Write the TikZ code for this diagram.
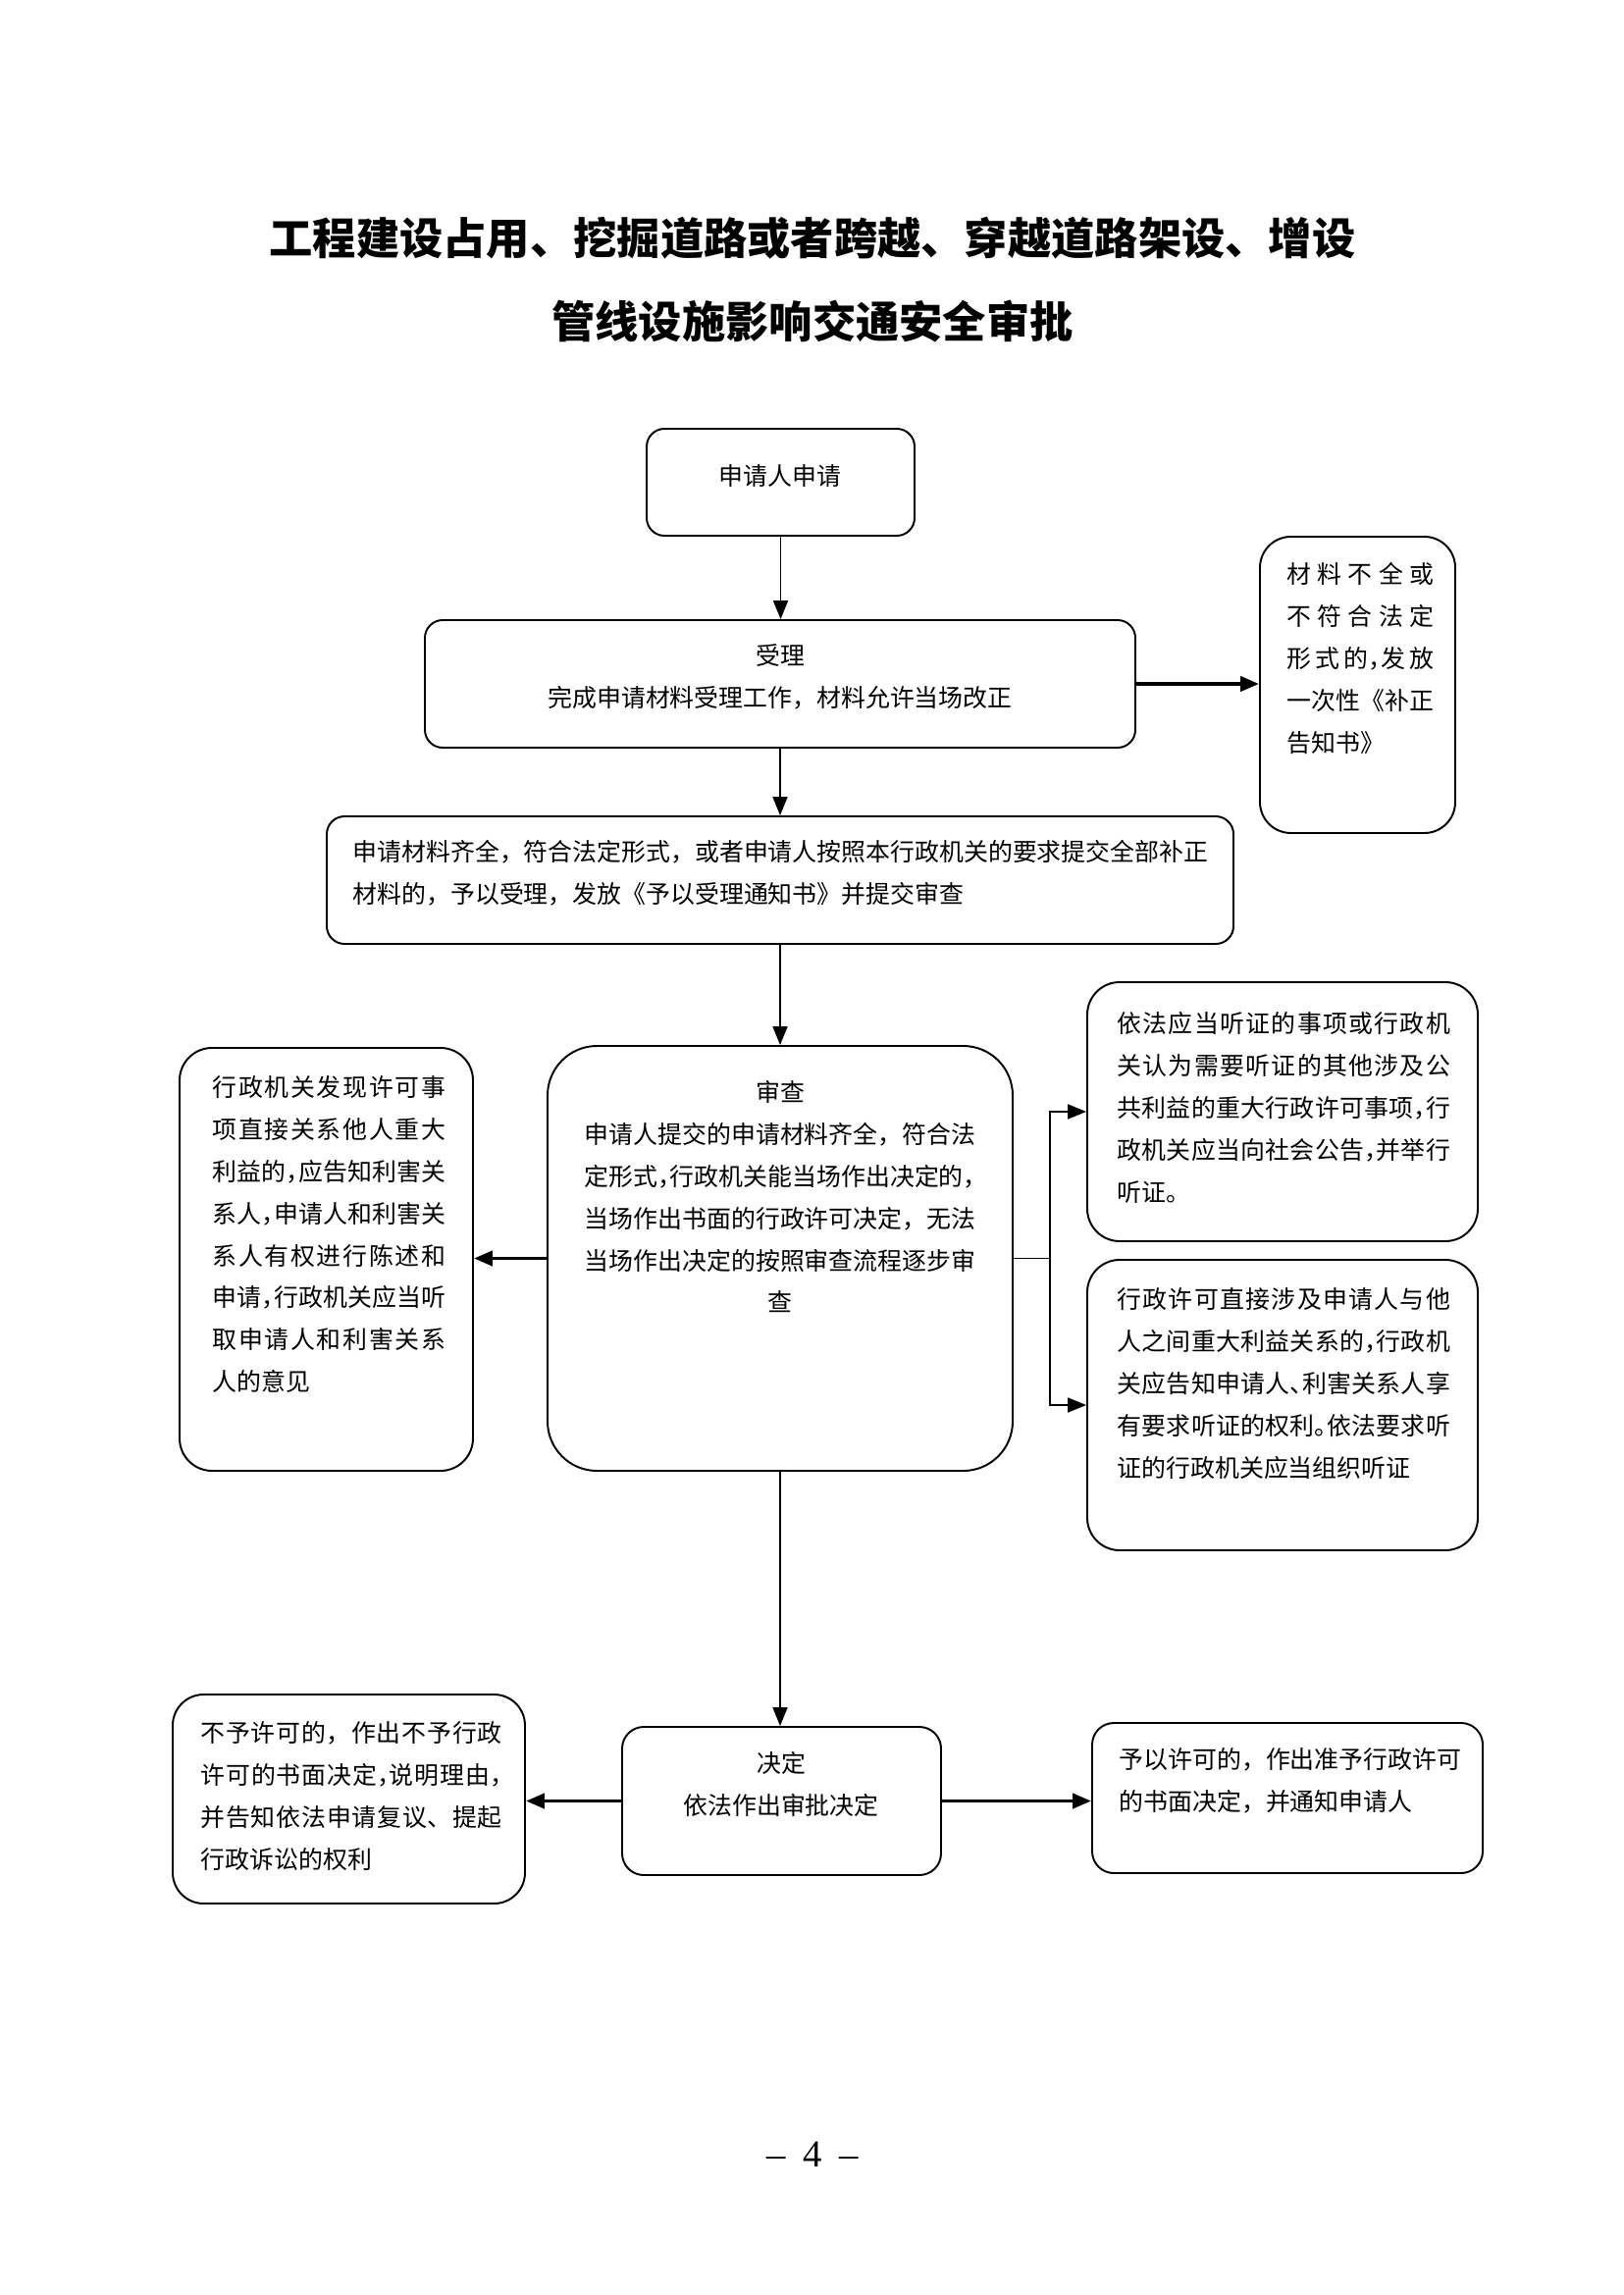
\documentclass[tikz,border=0pt]{standalone}
\usepackage{fontspec}
\setmainfont{Liberation Serif}
\newfontfamily\cjk{Noto Sans CJK SC}
\usetikzlibrary{arrows.meta,fit}
\XeTeXlinebreaklocale "zh"
\XeTeXlinebreakskip=0pt plus 3pt
\setlength{\parindent}{0pt}
\newcommand\hw[1]{\makebox[.5em][l]{#1}}

\begin{document}
\begin{tikzpicture}[x=0.127mm,y=-0.127mm]
\tikzset{
  box/.style={draw,line width=0.7pt,inner sep=0pt,rounded corners=#1},
  box/.default=2.3mm,
  txt/.style={inner sep=0pt,font=\cjk\fontsize{9}{15.5}\selectfont},
  midtxt/.style={txt,align=center,anchor=base,execute at begin node={\XeTeXlinebreakskip=0pt\relax}},
  headline/.style={inner sep=0pt,anchor=base,font=\cjk\bfseries\fontsize{16}{20}\selectfont},
  flow/.style={-{Triangle[length=2.4mm,width=1.9mm]},line width=0.6pt},
  heavyflow/.style={flow,line width=1.4pt}
}
\useasboundingbox (0,0) rectangle (1654,2339);
\node[headline] (t_head1) at (828,260) {工程建设占用、挖掘道路或者跨越、穿越道路架设、增设};
\node[headline] (t_head2) at (828,345) {管线设施影响交通安全审批};
% boxes
\node[box,fit={(659,437) (932,546)}] (b_apply) {};
\node[box,fit={(433,632) (1157,762)}] (b_accept) {};
\node[box=4mm,fit={(1284,547) (1483,849)}] (b_notice) {};
\node[box,fit={(333,832) (1257,962)}] (b_accepted) {};
\node[box=6.4mm,fit={(558,1066) (1032,1499)}] (b_review) {};
\node[box=4.2mm,fit={(183,1068) (482,1499)}] (b_hearing) {};
\node[box=4.2mm,fit={(1108,1001) (1506,1265)}] (b_public) {};
\node[box=4.2mm,fit={(1108,1284) (1506,1580)}] (b_party) {};
\node[box=2.8mm,fit={(634,1760) (959,1911)}] (b_decide) {};
\node[box=4mm,fit={(176,1727) (535,1940)}] (b_reject) {};
\node[box=2.8mm,fit={(1113,1756) (1511,1909)}] (b_grant) {};
% texts
\node[txt,anchor=base] (t_apply) at (795,494.5) {申请人申请};
\node[midtxt,text width=62mm] (t_accept) at (795,677.5) {受理\\完成申请材料受理工作，材料允许当场改正};
\node[txt,text width=19mm,align=justify,anchor=base west] (t_notice) at (1311,594.5) {材料不全或\linebreak 不符合法定\linebreak 形式的\hw{，}发放\linebreak 一次性《补正\linebreak 告知书》};
\node[txt,text width=112mm,align=left,anchor=base west] (t_accepted) at (359,877.5) {申请材料齐全，符合法定形式，或者申请人按照本行政机关的要求提交全部补正\\材料的，予以受理，发放《予以受理通知书》并提交审查};
\node[midtxt,text width=52mm] (t_review) at (795,1122.5) {审查\\申请人提交的申请材料齐全，符合法\\定形式\hw{，}行政机关能当场作出决定的\hw{，}\\当场作出书面的行政许可决定，无法\\当场作出决定的按照审查流程逐步审\\查};
\node[txt,text width=30.2mm,align=justify,anchor=base west] (t_hearing) at (216,1117.5) {行政机关发现许可事\linebreak 项直接关系他人重大\linebreak 利益的\hw{，}应告知利害关\linebreak 系人\hw{，}申请人和利害关\linebreak 系人有权进行陈述和\linebreak 申请\hw{，}行政机关应当听\linebreak 取申请人和利害关系\linebreak 人的意见};
\node[txt,text width=43.1mm,align=justify,anchor=base west] (t_public) at (1138,1052.5) {依法应当听证的事项或行政机\linebreak 关认为需要听证的其他涉及公\linebreak 共利益的重大行政许可事项\hw{，}行\linebreak 政机关应当向社会公告\hw{，}并举行\linebreak 听证。};
\node[txt,text width=43.1mm,align=justify,anchor=base west] (t_party) at (1138,1333.5) {行政许可直接涉及申请人与他\linebreak 人之间重大利益关系的\hw{，}行政机\linebreak 关应告知申请人\hw{、}利害关系人享\linebreak 有要求听证的权利\hw{。}依法要求听\linebreak 证的行政机关应当组织听证};
\node[midtxt,text width=40mm] (t_decide) at (796,1806.5) {决定\\依法作出审批决定};
\node[txt,text width=39mm,align=justify,anchor=base west] (t_reject) at (204,1775.5) {不予许可的，作出不予行政\linebreak 许可的书面决定\hw{，}说明理由\hw{，}\linebreak 并告知依法申请复议、提起\linebreak 行政诉讼的权利};
\node[txt,text width=46mm,align=left,anchor=base west] (t_grant) at (1140,1802.5) {予以许可的，作出准予行政许可\\的书面决定，并通知申请人};
\node[inner sep=0pt,anchor=base,font=\fontsize{14}{16}\selectfont] (t_page) at (828,2208) {\textendash\hspace{2.2mm}4\hspace{2.2mm}\textendash};
% arrows
\draw[flow] (b_apply.south) -- (b_apply.south |- b_accept.north);
\draw[heavyflow] (b_accept.east) -- (b_accept.east -| b_notice.west);
\draw[flow] (b_accept.south) -- (b_accept.south |- b_accepted.north);
\draw[flow] (b_accepted.south) -- (b_accepted.south |- b_review.north);
\draw[heavyflow] (b_review.west) -- (b_review.west -| b_hearing.east);
\draw[line width=0.6pt] (b_review.east) -- ++(37,0) coordinate (fork);
\draw[flow] (fork) |- (b_public.west);
\draw[flow] (fork) |- (b_party.west);
\draw[flow] (b_review.south) -- (b_review.south |- b_decide.north);
\draw[heavyflow] (b_decide.west) -- (b_decide.west -| b_reject.east);
\draw[heavyflow] (b_decide.east) -- (b_decide.east -| b_grant.west);
\end{tikzpicture}
\end{document}
